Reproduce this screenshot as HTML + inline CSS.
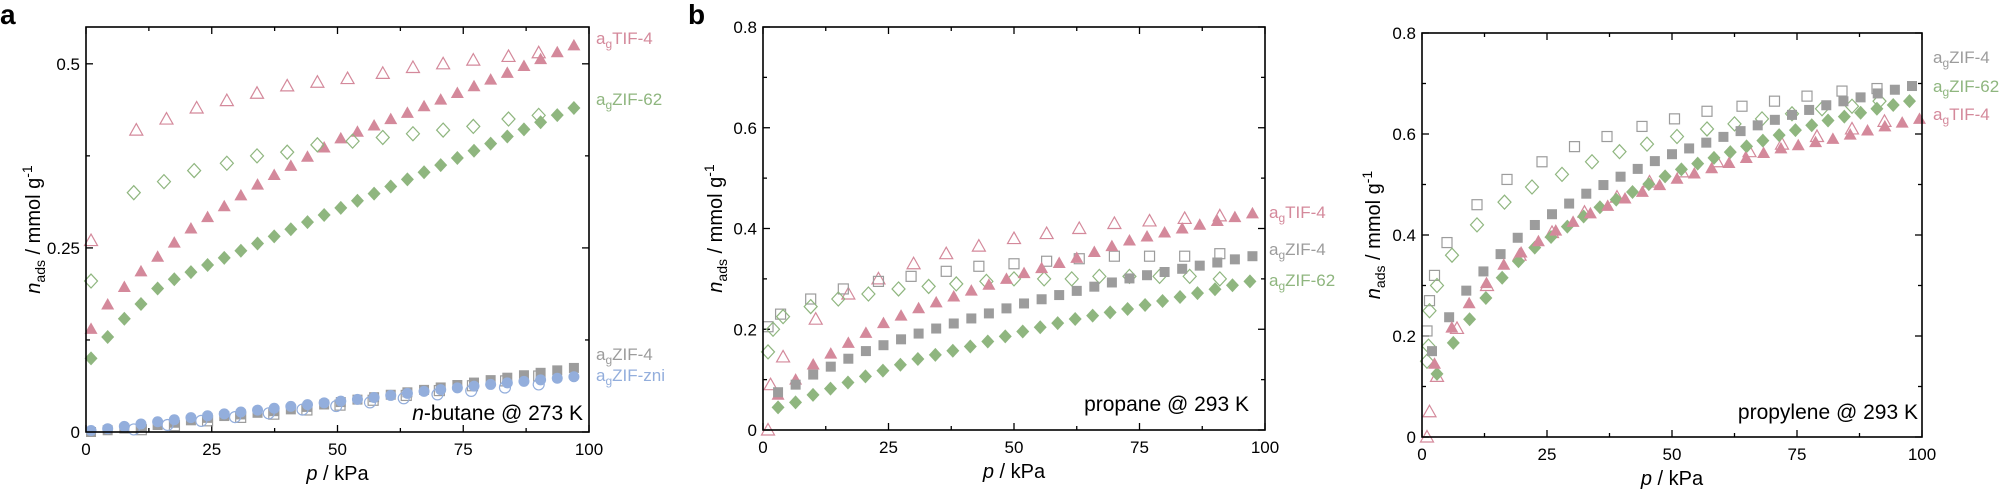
<!DOCTYPE html>
<html><head><meta charset="utf-8"><style>
html,body{margin:0;padding:0;background:#fff;}
svg{display:block;font-family:"Liberation Sans",Arial,sans-serif;}
</style></head><body>
<svg id="s" width="2000" height="489" xmlns="http://www.w3.org/2000/svg">
<text x="0" y="24" font-size="28" font-weight="bold">a</text>
<text x="688" y="24" font-size="28" font-weight="bold">b</text>
</svg>
<script>
const S=document.getElementById('s');
const PK='#d4899b',GR='#8fb67f',GY='#9c9c9c',BL='#93aedc';
let h='';
function panel(o){
 const {L,R,T,B,ymax,ymaj,ymin,ylabs}=o;
 const X=p=>L+(R-L)*p/100, Y=v=>B-(B-T)*v/ymax;
 o.X=X;o.Y=Y;
 // ticks
 for(let p=0;p<=100.01;p+=12.5){const x=X(p),len=(p%25==0)?7:4;
  h+=`<line x1="${x}" y1="${B}" x2="${x}" y2="${B-len}" stroke="#000" stroke-width="1.3"/><line x1="${x}" y1="${T}" x2="${x}" y2="${T+len}" stroke="#000" stroke-width="1.3"/>`;}
 for(let v=0;v<=ymax+1e-6;v+=ymin){const y=Y(v),maj=Math.abs(v/ymaj-Math.round(v/ymaj))<1e-6,len=maj?7:4;
  h+=`<line x1="${L}" y1="${y}" x2="${L+len}" y2="${y}" stroke="#000" stroke-width="1.3"/><line x1="${R}" y1="${y}" x2="${R-len}" y2="${y}" stroke="#000" stroke-width="1.3"/>`;}
 ylabs.forEach(v=>{h+=`<text x="${L-6}" y="${Y(v)+6}" font-size="17" text-anchor="end">${v}</text>`;});
 [0,25,50,75,100].forEach(p=>{h+=`<text x="${X(p)}" y="${B+23}" font-size="17" text-anchor="middle">${p}</text>`;});
 h+=`<text x="${(L+R)/2}" y="${B+48}" font-size="20" text-anchor="middle"><tspan font-style="italic">p</tspan> / kPa</text>`;
 const cx=o.yl, cy=(T+B)/2;
 h+=`<text transform="translate(${cx},${cy}) rotate(-90)" font-size="20" text-anchor="middle"><tspan font-style="italic">n</tspan><tspan font-size="14" dy="5">ads</tspan><tspan dy="-5"> / mmol g</tspan><tspan font-size="14" dy="-8">-1</tspan></text>`;
}
function mk(o,type,col,fill,pts){
 pts.forEach(([p,v])=>{const x=o.X(p),y=o.Y(v);
  const st=fill?`fill="${col}"`:`fill="none" stroke="${col}" stroke-width="1.2"`;
  if(type=='t')h+=`<polygon points="${x},${y-6.5} ${x+6.5},${y+5} ${x-6.5},${y+5}" ${st}/>`;
  else if(type=='s')h+=`<rect x="${x-5}" y="${y-5}" width="10" height="10" ${st}/>`;
  else if(type=='d')h+=`<polygon points="${x},${y-7} ${x+6.5},${y} ${x},${y+7} ${x-6.5},${y}" ${st}/>`;
  else h+=`<circle cx="${x}" cy="${y}" r="5.5" ${st}/>`;});
}
function seq(a,b,n,f){const r=[];for(let i=0;i<n;i++){const p=a+(b-a)*i/(n-1);r.push([p,f(p)]);}return r;}
function interp(pts){return p=>{for(let i=1;i<pts.length;i++){if(p<=pts[i][0]){const[a,b]=[pts[i-1],pts[i]];return a[1]+(b[1]-a[1])*(p-a[0])/(b[0]-a[0]);}}return pts[pts.length-1][1];};}
function leg(x,y,name,col){h+=`<text x="${x}" y="${y}" font-size="17" fill="${col}">a<tspan font-size="12" dy="4">g</tspan><tspan dy="-4">${name}</tspan></text>`;}

// Panel a
const A={L:86,R:589,T:27,B:432,ymax:0.55,ymaj:0.25,ymin:0.125,ylabs:[0,0.25,0.5],yl:40};
A.ylabs=[0,0.25,0.5];panel(A);
mk(A,'t',PK,0,[[1,.26],[10,.41],[16,.425],[22,.44],[28,.45],[34,.46],[40,.47],[46,.475],[52,.48],[59,.487],[65,.495],[71,.5],[77,.505],[84,.51],[90,.515]]);
mk(A,'t',PK,1,seq(1,97,30,interp([[1,.14],[5,.18],[12,.225],[21.5,.28],[35,.34],[51,.4],[64.5,.435],[81,.48],[97,.525]])));
mk(A,'d',GR,0,[[1,.205],[9.5,.325],[15.5,.34],[21.5,.355],[28,.365],[34,.375],[40,.38],[46,.39],[53,.395],[59,.4],[65,.405],[71,.41],[77,.415],[84,.425],[90,.43]]);
mk(A,'d',GR,1,seq(1,97,30,interp([[1,.1],[5,.135],[8.5,.16],[12,.18],[15,.2],[97,.44]])));
const gq=interp([[1,0],[15,.01],[25,.02],[40,.03],[55,.045],[70,.06],[85,.075],[97,.087]]);
mk(A,'s',GY,0,seq(11,90,13,p=>gq(p)-0.004));
mk(A,'s',GY,1,seq(1,97,30,gq));
const bq=interp([[1,.002],[5,.005],[12,.012],[21.5,.02],[28,.025],[41,.035],[55,.045],[67,.055],[81,.065],[97,.075]]);
mk(A,'c',BL,0,seq(9.5,90,13,p=>bq(p)-0.006));
mk(A,'c',BL,1,seq(1,97,30,bq));
leg(596,44,'TIF-4',PK);leg(596,105,'ZIF-62',GR);leg(596,360,'ZIF-4',GY);leg(596,381,'ZIF-zni',BL);
h+=`<text x="583" y="420" font-size="21" text-anchor="end"><tspan font-style="italic">n</tspan>-butane @ 273 K</text>`;

// Panel b
const Bp={L:763,R:1265,T:27,B:430,ymax:0.8,ymaj:0.2,ymin:0.1,ylabs:[0,0.2,0.4,0.6,0.8],yl:722};
panel(Bp);
mk(Bp,'t',PK,0,[[1,0],[1.5,.09],[4,.145],[10.5,.22],[17,.27],[23,.3],[30,.33],[36.5,.35],[43,.365],[50,.38],[56.5,.39],[63,.4],[70,.41],[77,.415],[84,.42],[91,.425]]);
mk(Bp,'s',GY,0,[[1,.205],[3.5,.23],[9.5,.26],[16,.28],[23,.295],[29.5,.305],[36.5,.315],[43,.325],[50,.33],[56.5,.335],[63,.34],[70,.345],[77,.345],[84,.345],[91,.35]]);
mk(Bp,'d',GR,0,[[1,.155],[2,.2],[4,.225],[9.5,.245],[15,.26],[21,.27],[27,.28],[33,.285],[38.5,.29],[44.5,.295],[50,.3],[56,.3],[61.5,.3],[67,.305],[73,.305],[79,.305],[85,.305],[91,.3]]);
mk(Bp,'t',PK,1,seq(3,97.5,28,interp([[3,.07],[6.5,.1],[10,.13],[16.5,.17],[23.5,.21],[30.5,.24],[41,.275],[51.5,.31],[62,.34],[72.5,.375],[83.5,.4],[97.5,.43]])));
mk(Bp,'s',GY,1,seq(3,97.5,28,interp([[3,.075],[6.5,.09],[10,.11],[20,.155],[30.5,.19],[41,.22],[51.5,.25],[62,.275],[72.5,.3],[83.5,.32],[97.5,.345]])));
mk(Bp,'d',GR,1,seq(3,97,28,interp([[3,.045],[6.5,.055],[10,.07],[20,.105],[30.5,.14],[41,.165],[51.5,.195],[62,.22],[72.5,.24],[83.5,.265],[97,.295]])));
leg(1269,218,'TIF-4',PK);leg(1269,255,'ZIF-4',GY);leg(1269,286,'ZIF-62',GR);
h+=`<text x="1249" y="411" font-size="21" text-anchor="end">propane @ 293 K</text>`;

// Panel c
const C={L:1422,R:1922,T:33,B:437,ymax:0.8,ymaj:0.2,ymin:0.1,ylabs:[0,0.2,0.4,0.6,0.8],yl:1380};
panel(C);
mk(C,'s',GY,0,[[1,.21],[1.5,.27],[2.5,.32],[5,.385],[11,.46],[17,.51],[24,.545],[30.5,.575],[37,.595],[44,.615],[50.5,.63],[57,.645],[64,.655],[70.5,.665],[77,.675],[84,.685],[91,.69]]);
mk(C,'d',GR,0,[[1,.15],[1.3,.18],[1.5,.25],[3,.3],[6,.36],[11,.42],[16.5,.465],[22,.495],[28,.52],[34,.545],[39.5,.565],[45,.58],[51,.595],[57,.61],[62.5,.62],[68,.63],[74,.64],[80,.65],[86,.655],[91.5,.665]]);
mk(C,'t',PK,0,[[1,0],[1.5,.05],[3,.12],[7,.215],[13,.3],[19.5,.36],[26,.405],[32.5,.445],[39,.475],[45.5,.505],[52,.525],[59,.545],[65.5,.565],[72,.58],[79,.595],[86,.61],[92.5,.625]]);
mk(C,'s',GY,1,seq(2,98,29,interp([[2,.17],[5,.23],[8,.28],[11.5,.32],[15,.355],[18,.385],[21,.41],[25,.435],[31.5,.475],[38.5,.51],[48.5,.555],[59,.59],[69.5,.625],[80,.655],[91,.68],[98,.695]])));
mk(C,'d',GR,1,seq(3,97.5,30,interp([[3,.125],[5.5,.175],[8.5,.22],[12,.265],[15,.305],[18,.335],[21,.365],[28,.41],[34.5,.45],[41,.48],[50.5,.525],[60.5,.56],[70.5,.595],[80.5,.625],[91,.65],[97.5,.665]])));
mk(C,'t',PK,1,seq(2.5,99.5,29,interp([[2.5,.145],[5.5,.21],[9,.26],[12.5,.3],[15.5,.335],[19,.36],[26,.405],[33,.44],[40,.47],[50.5,.51],[60.5,.54],[71,.57],[82,.59],[92.5,.615],[99.5,.63]])));
leg(1933,63,'ZIF-4',GY);leg(1933,92,'ZIF-62',GR);leg(1933,120,'TIF-4',PK);
h+=`<text x="1918" y="419" font-size="21" text-anchor="end">propylene @ 293 K</text>`;

// frames
[A,Bp,C].forEach(o=>{h+=`<rect x="${o.L}" y="${o.T}" width="${o.R-o.L}" height="${o.B-o.T}" fill="none" stroke="#000" stroke-width="1.6"/>`;});
S.insertAdjacentHTML('beforeend',h);
</script>
</body></html>
